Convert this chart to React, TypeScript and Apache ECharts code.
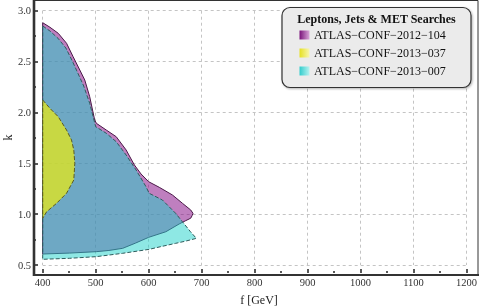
import React, { useEffect, useRef } from "react";
import * as echarts from "echarts";

const legendTitle = "Leptons, Jets & MET Searches";
const seriesNames = ["ATLAS−CONF−2012−104", "ATLAS−CONF−2013−037", "ATLAS−CONF−2013−007"];

// Excluded regions in (f [GeV], k)
const purpleRegion: [number, number][] = [
  [400, 2.882], [413.7, 2.837], [429.3, 2.778], [445, 2.68], [457.4, 2.548], [470, 2.417],
  [479.4, 2.319], [488.7, 2.155], [498.1, 1.926], [501.3, 1.893], [520, 1.827], [538.8, 1.761],
  [557.5, 1.631], [573.1, 1.483], [585.6, 1.395], [599.9, 1.319], [620, 1.264], [645, 1.188],
  [663.7, 1.107], [679.4, 1.041], [683.7, 1.008], [682, 0.985], [679.4, 0.96], [670, 0.936],
  [657.5, 0.903], [632.5, 0.827], [600, 0.772], [575, 0.715], [551, 0.664], [525, 0.643],
  [501, 0.631], [450, 0.617], [400, 0.608],
];
const cyanRegion: [number, number][] = [
  [400, 2.85], [413.7, 2.8], [428.7, 2.73], [443.7, 2.633], [455, 2.515], [466.2, 2.388],
  [477.4, 2.26], [488.7, 2.09], [500, 1.86], [520, 1.795], [538.8, 1.712], [557.5, 1.581],
  [576.3, 1.434], [595, 1.27], [601, 1.205], [626, 1.139], [651, 1.008], [663, 0.93],
  [679, 0.827], [690, 0.762], [670, 0.735], [651, 0.713], [625, 0.683], [601, 0.654],
  [551, 0.615], [501, 0.582], [451, 0.566], [400, 0.556],
];
const yellowRegion: [number, number][] = [
  [400, 2.122], [413.7, 2.04], [429.3, 1.958], [445, 1.827], [454.4, 1.729], [458.7, 1.63],
  [460.6, 1.5], [458.7, 1.336], [445, 1.205], [426.3, 1.107], [407.5, 1.024], [400, 0.96],
];

const xMin = 400, xMax = 1200, xStep = 100;
const yMin = 0.5, yMax = 3.0, yStep = 0.5;

const SERIF = "'Liberation Serif', 'Times New Roman', serif";

function polySeries(name: string, pts: [number, number][], fill: string, stroke: string, dash: number[] | null, z: number) {
  return {
    type: "custom",
    name,
    coordinateSystem: "cartesian2d",
    data: pts,
    z,
    silent: true,
    renderItem: (params: any, api: any) => {
      if (params.dataIndex !== 0) return null;
      const points = pts.map((p) => api.coord(p));
      return {
        type: "polygon",
        shape: { points },
        style: { fill, stroke, lineWidth: 1, lineDash: dash || undefined },
      };
    },
  };
}

export default function App() {
  const ref = useRef<HTMLDivElement>(null);
  useEffect(() => {
    if (!ref.current) return;
    const chart = echarts.init(ref.current, undefined, { renderer: "svg" });
    const swatch = (c0: string, c1: string) =>
      new echarts.graphic.LinearGradient(0, 0, 1, 0, [
        { offset: 0, color: c0 },
        { offset: 1, color: c1 },
      ]);
    const items = [
      { name: seriesNames[0], fill: swatch("#7a127a", "#d9a6d9"), y: 35 },
      { name: seriesNames[1], fill: swatch("#e6e020", "#f8f6b0"), y: 53 },
      { name: seriesNames[2], fill: swatch("#30cccc", "#b8f2f0"), y: 71 },
    ];
    chart.setOption({
      animation: false,
      grid: { left: 42.7, right: 10.7, top: 10.7, bottom: 43 },
      xAxis: {
        type: "value",
        min: xMin,
        max: xMax,
        interval: xStep,
        offset: 8,
        axisLine: { show: false },
        axisTick: { show: true, inside: true, length: 4, lineStyle: { color: "#222", width: 1.5 } },
        minorTick: { show: true, splitNumber: 2, length: 2, lineStyle: { color: "#222", width: 1.5 } },
        axisLabel: { color: "#333", fontFamily: SERIF, fontSize: 10.5, margin: 4, formatter: (v: number) => String(v) },
        splitLine: { show: true, lineStyle: { color: "#c4c4c4", width: 1, type: [3, 3] } },
      },
      yAxis: {
        type: "value",
        min: yMin,
        max: yMax,
        interval: yStep,
        offset: 8.7,
        axisLine: { show: false },
        axisTick: { show: true, inside: true, length: 4, lineStyle: { color: "#222", width: 1.5 } },
        minorTick: { show: true, splitNumber: 2, length: 2, lineStyle: { color: "#222", width: 1.5 } },
        axisLabel: {
          color: "#333",
          fontFamily: SERIF,
          fontSize: 10.5,
          margin: 3,
          formatter: (v: number) => v.toFixed(1),
        },
        splitLine: { show: true, lineStyle: { color: "#c4c4c4", width: 1, type: [3, 3] } },
      },
      series: [
        polySeries(seriesNames[0], purpleRegion, "rgba(128,0,128,0.5)", "#4a1848", null, 2),
        polySeries(seriesNames[2], cyanRegion, "rgba(29,209,201,0.5)", "#2d5c5c", [4, 2], 3),
        polySeries(seriesNames[1], yellowRegion, "rgba(238,236,11,0.7)", "#5a5a22", [4, 2], 4),
      ],
      graphic: [
        // frame
        { type: "rect", z: 50, silent: true, shape: { x: 34, y: 0.5, width: 444, height: 274.5 },
          style: { fill: "none", stroke: "#333", lineWidth: 1 } },
        { type: "line", z: 51, silent: true, shape: { x1: 34, y1: 0, x2: 34, y2: 276 },
          style: { stroke: "#333", lineWidth: 2.6 } },
        { type: "line", z: 51, silent: true, shape: { x1: 33, y1: 275, x2: 479, y2: 275 },
          style: { stroke: "#333", lineWidth: 2.2 } },
        // axis titles
        { type: "text", z: 60, x: 259, y: 300, style: { text: "f [GeV]", font: `12px ${SERIF}`, fill: "#222",
          align: "center", verticalAlign: "middle", textAlign: "center", textVerticalAlign: "middle" } },
        { type: "text", z: 60, x: 8, y: 137.5, rotation: Math.PI / 2, style: { text: "k", font: `12px ${SERIF}`, fill: "#222",
          align: "center", verticalAlign: "middle", textAlign: "center", textVerticalAlign: "middle" } },
        // legend
        {
          type: "group",
          z: 100,
          children: [
            { type: "rect", z: 100, shape: { x: 282, y: 7.5, width: 189, height: 80, r: 8 },
              style: { fill: "#ebebeb", stroke: "#333", lineWidth: 1.2, shadowBlur: 2, shadowOffsetX: 1, shadowOffsetY: 1, shadowColor: "rgba(0,0,0,0.3)" } },
            { type: "text", z: 101, x: 376.5, y: 18.5, style: { text: legendTitle, font: `bold 12px ${SERIF}`, fill: "#111",
              align: "center", verticalAlign: "middle", textAlign: "center", textVerticalAlign: "middle" } },
            ...items.flatMap((it) => [
              { type: "rect", z: 101, shape: { x: 299.5, y: it.y - 4.5, width: 10, height: 9 }, style: { fill: it.fill } },
              { type: "text", z: 101, x: 314, y: it.y, style: { text: it.name, font: `12px ${SERIF}`, fill: "#111",
                align: "left", verticalAlign: "middle", textAlign: "left", textVerticalAlign: "middle" } },
            ]),
          ],
        },
      ],
    });
    return () => chart.dispose();
  }, []);
  return <div ref={ref} style={{ position: "fixed", left: 0, top: 0, width: 480, height: 308 }} />;
}
